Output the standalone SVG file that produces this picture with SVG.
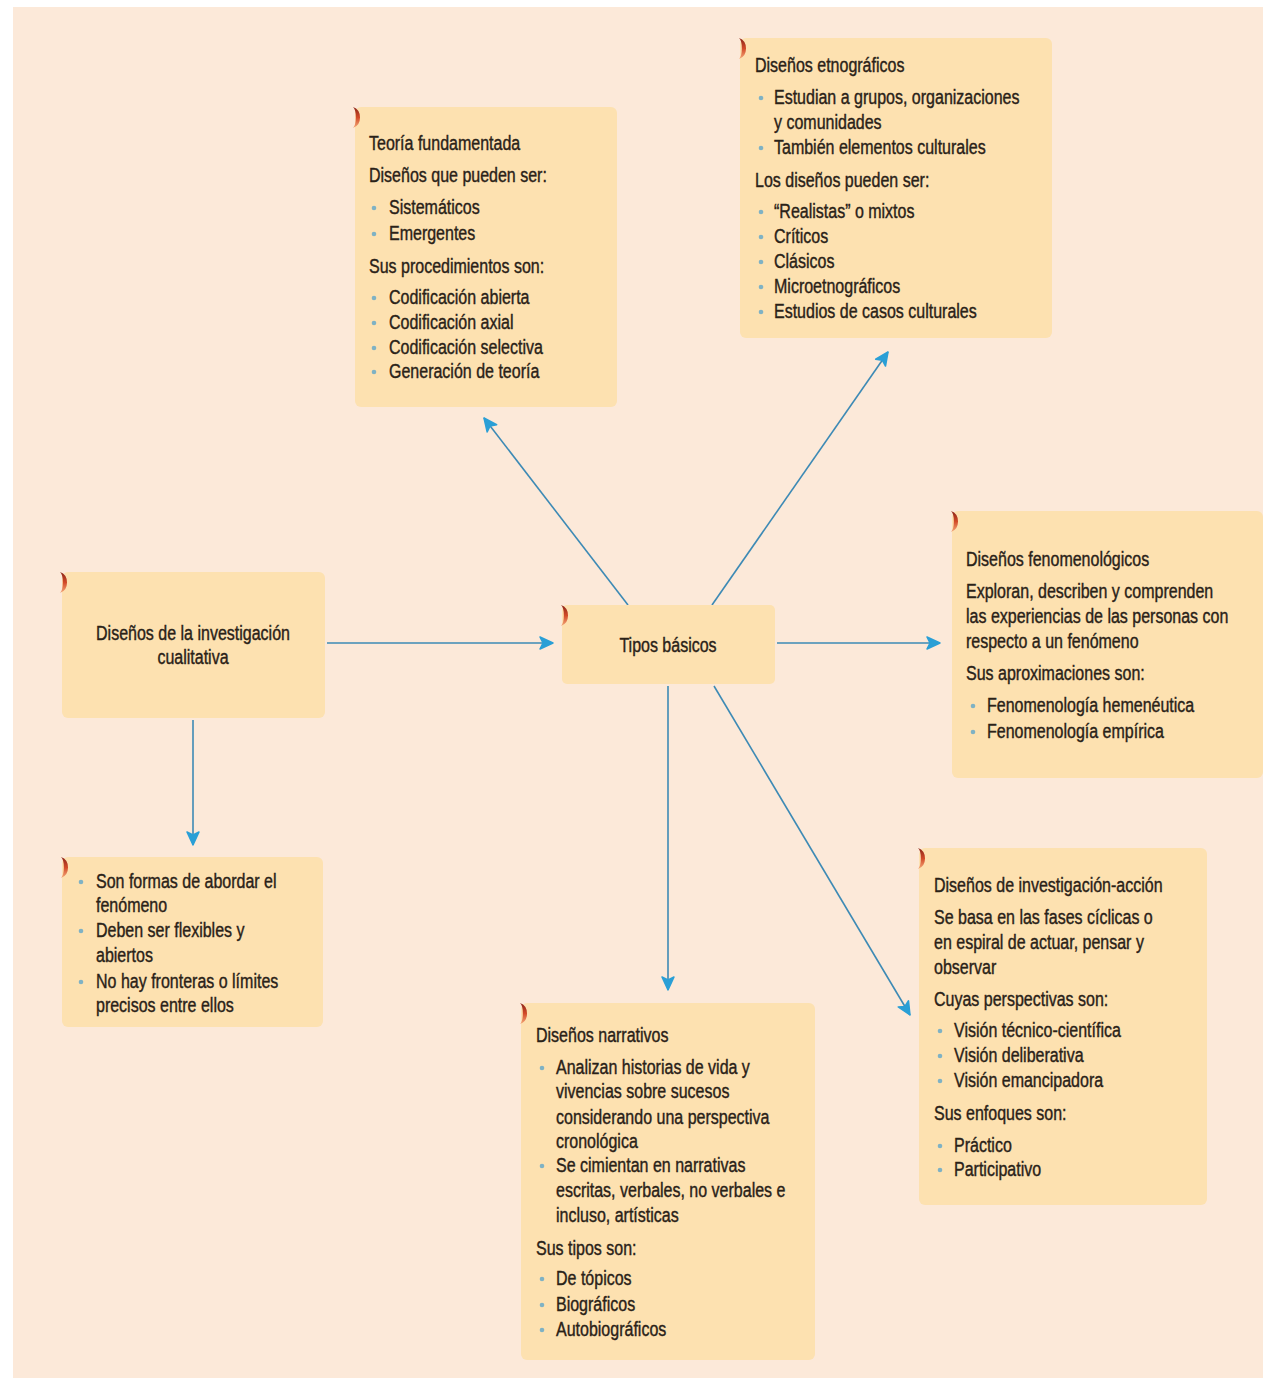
<svg xmlns="http://www.w3.org/2000/svg" width="1263" height="1378" viewBox="0 0 1263 1378">
<defs>
<style>
.box{fill:#fde1b0;}
.t{font-family:"Liberation Sans",Arial,sans-serif;font-size:20px;fill:#2a2218;stroke:#2a2218;stroke-width:0.4;}
.c{text-anchor:middle;}
.b{fill:#7fb2c4;}
.ln{stroke:#3d8ab5;stroke-width:1.6;fill:none;marker-end:url(#ah);}
.dec{fill:url(#dg);}
</style>
<linearGradient id="dg" x1="0" y1="0" x2="0" y2="1">
<stop offset="0" stop-color="#8a2418"/>
<stop offset="0.5" stop-color="#d24a28"/>
<stop offset="1" stop-color="#f4a878"/>
</linearGradient>
<marker id="ah" markerUnits="userSpaceOnUse" markerWidth="16" markerHeight="16" refX="11" refY="0" viewBox="-4 -8 16 16" orient="auto" overflow="visible">
<path d="M-2,-6 L11,0 L-2,6 L1,0 Z" fill="#2a9fd6" stroke="#2a9fd6" stroke-width="1.5" stroke-linejoin="round"/>
</marker>
</defs>
<rect x="0" y="0" width="1263" height="1378" fill="#ffffff"/>
<rect x="13" y="7" width="1250" height="1371" fill="#fce9d9"/>

<g id="connectors">
<line class="ln" x1="327" y1="643" x2="553" y2="643"/>
<line class="ln" x1="193" y1="720" x2="193" y2="845"/>
<line class="ln" x1="628" y1="605" x2="484" y2="418"/>
<line class="ln" x1="712" y1="605" x2="888" y2="352"/>
<line class="ln" x1="777" y1="643" x2="940" y2="643"/>
<line class="ln" x1="668" y1="686" x2="668" y2="990"/>
<line class="ln" x1="714" y1="686" x2="910" y2="1015"/>
</g>

<g id="n-disenos">
<rect class="box" x="62" y="572" width="263" height="146" rx="6"/>
<path class="dec" d="M60,572 a10,11 0 0 1 0,21 a4,11 0 0 0 0,-21 z"/>
<text class="t c" transform="translate(193,640) scale(0.8,1)">Diseños de la investigación</text>
<text class="t c" transform="translate(193,664) scale(0.8,1)">cualitativa</text>
</g>

<g id="n-tipos">
<rect class="box" x="562" y="605" width="213" height="79" rx="5"/>
<path class="dec" d="M561,605 a10,11 0 0 1 0,21 a4,11 0 0 0 0,-21 z"/>
<text class="t c" transform="translate(668,652) scale(0.8,1)">Tipos básicos</text>
</g>

<g id="n-teoria">
<rect class="box" x="355" y="107" width="262" height="300" rx="6"/>
<path class="dec" d="M353,107 a10,11 0 0 1 0,21 a4,11 0 0 0 0,-21 z"/>
<text class="t" transform="translate(369,150) scale(0.8,1)">Teoría fundamentada</text>
<text class="t" transform="translate(369,182) scale(0.8,1)">Diseños que pueden ser:</text>
<circle class="b" cx="374" cy="208" r="2.3"/><text class="t" transform="translate(389,214) scale(0.8,1)">Sistemáticos</text>
<circle class="b" cx="374" cy="234" r="2.3"/><text class="t" transform="translate(389,240) scale(0.8,1)">Emergentes</text>
<text class="t" transform="translate(369,273) scale(0.8,1)">Sus procedimientos son:</text>
<circle class="b" cx="374" cy="298" r="2.3"/><text class="t" transform="translate(389,304) scale(0.8,1)">Codificación abierta</text>
<circle class="b" cx="374" cy="323" r="2.3"/><text class="t" transform="translate(389,329) scale(0.8,1)">Codificación axial</text>
<circle class="b" cx="374" cy="348" r="2.3"/><text class="t" transform="translate(389,354) scale(0.8,1)">Codificación selectiva</text>
<circle class="b" cx="374" cy="372" r="2.3"/><text class="t" transform="translate(389,378) scale(0.8,1)">Generación de teoría</text>
</g>

<g id="n-etno">
<rect class="box" x="740" y="38" width="312" height="300" rx="6"/>
<path class="dec" d="M739,38 a10,11 0 0 1 0,21 a4,11 0 0 0 0,-21 z"/>
<text class="t" transform="translate(755,72) scale(0.8,1)">Diseños etnográficos</text>
<circle class="b" cx="761" cy="98" r="2.3"/><text class="t" transform="translate(774,104) scale(0.8,1)">Estudian a grupos, organizaciones</text>
<text class="t" transform="translate(774,129) scale(0.8,1)">y comunidades</text>
<circle class="b" cx="761" cy="148" r="2.3"/><text class="t" transform="translate(774,154) scale(0.8,1)">También elementos culturales</text>
<text class="t" transform="translate(755,187) scale(0.8,1)">Los diseños pueden ser:</text>
<circle class="b" cx="761" cy="212" r="2.3"/><text class="t" transform="translate(774,218) scale(0.8,1)">“Realistas” o mixtos</text>
<circle class="b" cx="761" cy="237" r="2.3"/><text class="t" transform="translate(774,243) scale(0.8,1)">Críticos</text>
<circle class="b" cx="761" cy="262" r="2.3"/><text class="t" transform="translate(774,268) scale(0.8,1)">Clásicos</text>
<circle class="b" cx="761" cy="287" r="2.3"/><text class="t" transform="translate(774,293) scale(0.8,1)">Microetnográficos</text>
<circle class="b" cx="761" cy="312" r="2.3"/><text class="t" transform="translate(774,318) scale(0.8,1)">Estudios de casos culturales</text>
</g>

<g id="n-fenom">
<rect class="box" x="952" y="511" width="311" height="267" rx="6"/>
<path class="dec" d="M951,511 a10,11 0 0 1 0,21 a4,11 0 0 0 0,-21 z"/>
<text class="t" transform="translate(966,566) scale(0.8,1)">Diseños fenomenológicos</text>
<text class="t" transform="translate(966,598) scale(0.8,1)">Exploran, describen y comprenden</text>
<text class="t" transform="translate(966,623) scale(0.8,1)">las experiencias de las personas con</text>
<text class="t" transform="translate(966,648) scale(0.8,1)">respecto a un fenómeno</text>
<text class="t" transform="translate(966,680) scale(0.8,1)">Sus aproximaciones son:</text>
<circle class="b" cx="973" cy="706" r="2.3"/><text class="t" transform="translate(987,712) scale(0.8,1)">Fenomenología hemenéutica</text>
<circle class="b" cx="973" cy="732" r="2.3"/><text class="t" transform="translate(987,738) scale(0.8,1)">Fenomenología empírica</text>
</g>

<g id="n-formas">
<rect class="box" x="62" y="857" width="261" height="170" rx="6"/>
<path class="dec" d="M61,857 a10,11 0 0 1 0,21 a4,11 0 0 0 0,-21 z"/>
<circle class="b" cx="81" cy="882" r="2.3"/><text class="t" transform="translate(96,888) scale(0.8,1)">Son formas de abordar el</text>
<text class="t" transform="translate(96,912) scale(0.8,1)">fenómeno</text>
<circle class="b" cx="81" cy="931" r="2.3"/><text class="t" transform="translate(96,937) scale(0.8,1)">Deben ser flexibles y</text>
<text class="t" transform="translate(96,962) scale(0.8,1)">abiertos</text>
<circle class="b" cx="81" cy="982" r="2.3"/><text class="t" transform="translate(96,988) scale(0.8,1)">No hay fronteras o límites</text>
<text class="t" transform="translate(96,1012) scale(0.8,1)">precisos entre ellos</text>
</g>

<g id="n-narrativos">
<rect class="box" x="521" y="1003" width="294" height="357" rx="6"/>
<path class="dec" d="M520,1003 a10,11 0 0 1 0,21 a4,11 0 0 0 0,-21 z"/>
<text class="t" transform="translate(536,1042) scale(0.8,1)">Diseños narrativos</text>
<circle class="b" cx="542" cy="1068" r="2.3"/><text class="t" transform="translate(556,1074) scale(0.8,1)">Analizan historias de vida y</text>
<text class="t" transform="translate(556,1098) scale(0.8,1)">vivencias sobre sucesos</text>
<text class="t" transform="translate(556,1124) scale(0.8,1)">considerando una perspectiva</text>
<text class="t" transform="translate(556,1148) scale(0.8,1)">cronológica</text>
<circle class="b" cx="542" cy="1166" r="2.3"/><text class="t" transform="translate(556,1172) scale(0.8,1)">Se cimientan en narrativas</text>
<text class="t" transform="translate(556,1197) scale(0.8,1)">escritas, verbales, no verbales e</text>
<text class="t" transform="translate(556,1222) scale(0.8,1)">incluso, artísticas</text>
<text class="t" transform="translate(536,1255) scale(0.8,1)">Sus tipos son:</text>
<circle class="b" cx="542" cy="1279" r="2.3"/><text class="t" transform="translate(556,1285) scale(0.8,1)">De tópicos</text>
<circle class="b" cx="542" cy="1305" r="2.3"/><text class="t" transform="translate(556,1311) scale(0.8,1)">Biográficos</text>
<circle class="b" cx="542" cy="1330" r="2.3"/><text class="t" transform="translate(556,1336) scale(0.8,1)">Autobiográficos</text>
</g>

<g id="n-accion">
<rect class="box" x="919" y="848" width="288" height="357" rx="6"/>
<path class="dec" d="M918,848 a10,11 0 0 1 0,21 a4,11 0 0 0 0,-21 z"/>
<text class="t" transform="translate(934,892) scale(0.8,1)">Diseños de investigación-acción</text>
<text class="t" transform="translate(934,924) scale(0.8,1)">Se basa en las fases cíclicas o</text>
<text class="t" transform="translate(934,949) scale(0.8,1)">en espiral de actuar, pensar y</text>
<text class="t" transform="translate(934,974) scale(0.8,1)">observar</text>
<text class="t" transform="translate(934,1006) scale(0.8,1)">Cuyas perspectivas son:</text>
<circle class="b" cx="940" cy="1031" r="2.3"/><text class="t" transform="translate(954,1037) scale(0.8,1)">Visión técnico-científica</text>
<circle class="b" cx="940" cy="1056" r="2.3"/><text class="t" transform="translate(954,1062) scale(0.8,1)">Visión deliberativa</text>
<circle class="b" cx="940" cy="1081" r="2.3"/><text class="t" transform="translate(954,1087) scale(0.8,1)">Visión emancipadora</text>
<text class="t" transform="translate(934,1120) scale(0.8,1)">Sus enfoques son:</text>
<circle class="b" cx="940" cy="1146" r="2.3"/><text class="t" transform="translate(954,1152) scale(0.8,1)">Práctico</text>
<circle class="b" cx="940" cy="1170" r="2.3"/><text class="t" transform="translate(954,1176) scale(0.8,1)">Participativo</text>
</g>
</svg>
